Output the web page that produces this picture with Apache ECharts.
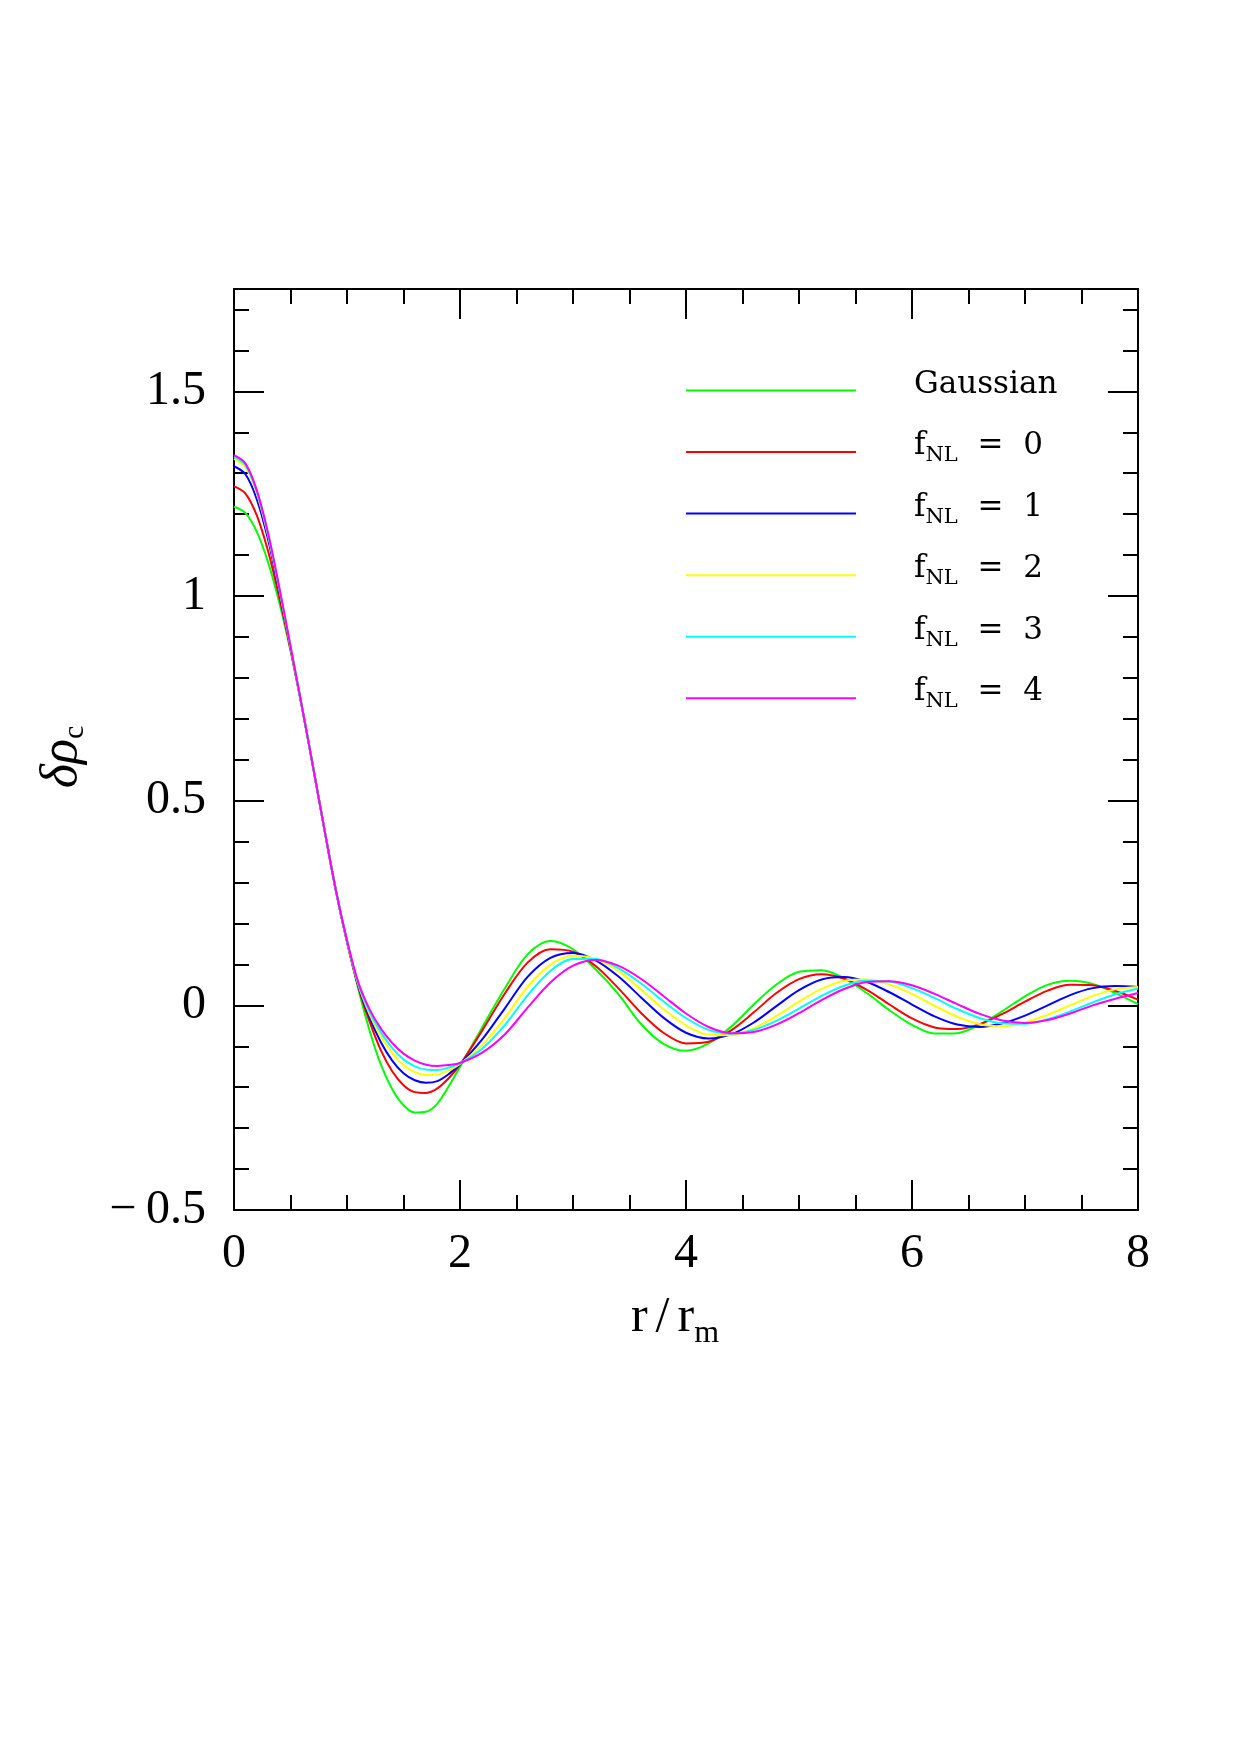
<!DOCTYPE html>
<html>
<head>
<meta charset="utf-8">
<script src="https://cdn.jsdelivr.net/npm/echarts@6/dist/echarts.min.js"></script>
<style>
html, body { margin: 0; padding: 0; background: #fff; }
#main { width: 1240px; height: 1755px; }
</style>
</head>
<body>
<div id="main"></div>
<script>
// r / r_m sample points
const rValues = [0, 0.1, 0.2, 0.3, 0.4, 0.5, 0.6, 0.7, 0.8, 0.9, 1.0, 1.1, 1.2, 1.3, 1.4, 1.5, 1.6, 1.7, 1.8, 1.9, 2.0,
    2.2, 2.4, 2.6, 2.8, 3.0, 3.2, 3.4, 3.6, 3.8, 4.0, 4.2, 4.4, 4.6, 4.8, 5.0, 5.2, 5.4, 5.6, 5.8, 6.0,
    6.2, 6.4, 6.6, 6.8, 7.0, 7.2, 7.4, 7.6, 7.8, 8.0];

const gaussian = [1.218, 1.203, 1.158, 1.084, 0.985, 0.866, 0.730, 0.582, 0.430, 0.283, 0.155, 0.040, -0.062, -0.145, -0.205, -0.244, -0.262, -0.260, -0.240, -0.198, -0.150,
    -0.052, 0.043, 0.125, 0.157, 0.137, 0.088, 0.028, -0.045, -0.094, -0.111, -0.093, -0.052, 0.002, 0.051, 0.082, 0.086, 0.066, 0.030, -0.012, -0.048,
    -0.069, -0.068, -0.047, -0.014, 0.022, 0.050, 0.060, 0.052, 0.030, 0.003];
const fnl0 = [1.268, 1.251, 1.198, 1.111, 0.998, 0.870, 0.731, 0.582, 0.430, 0.283, 0.155, 0.045, -0.040, -0.110, -0.161, -0.195, -0.212, -0.214, -0.203, -0.178, -0.145,
    -0.060, 0.030, 0.105, 0.137, 0.131, 0.096, 0.042, -0.018, -0.067, -0.093, -0.089, -0.061, -0.017, 0.030, 0.064, 0.076, 0.065, 0.038, 0.002, -0.032,
    -0.054, -0.058, -0.046, -0.021, 0.009, 0.036, 0.050, 0.049, 0.035, 0.014];
const fnl1 = [1.317, 1.298, 1.238, 1.140, 1.012, 0.874, 0.731, 0.582, 0.430, 0.283, 0.156, 0.048, -0.030, -0.090, -0.135, -0.166, -0.183, -0.189, -0.185, -0.168, -0.144,
    -0.082, -0.006, 0.070, 0.116, 0.128, 0.110, 0.071, 0.020, -0.030, -0.067, -0.081, -0.071, -0.042, -0.002, 0.037, 0.063, 0.069, 0.057, 0.032, 0.002,
    -0.027, -0.047, -0.053, -0.044, -0.025, 0.000, 0.025, 0.042, 0.047, 0.045];
const fnl2 = [1.335, 1.315, 1.252, 1.150, 1.018, 0.876, 0.732, 0.582, 0.430, 0.283, 0.157, 0.051, -0.022, -0.076, -0.117, -0.146, -0.163, -0.170, -0.169, -0.159, -0.143,
    -0.096, -0.030, 0.046, 0.099, 0.121, 0.113, 0.084, 0.039, -0.009, -0.049, -0.072, -0.073, -0.056, -0.026, 0.009, 0.040, 0.060, 0.063, 0.051, 0.028,
    -0.001, -0.028, -0.046, -0.051, -0.042, -0.023, 0.000, 0.023, 0.039, 0.045];
const fnl3 = [1.340, 1.320, 1.256, 1.153, 1.020, 0.877, 0.732, 0.582, 0.430, 0.283, 0.158, 0.053, -0.016, -0.066, -0.104, -0.132, -0.149, -0.157, -0.158, -0.152, -0.142,
    -0.105, -0.047, 0.025, 0.084, 0.113, 0.113, 0.091, 0.054, 0.010, -0.031, -0.060, -0.069, -0.060, -0.038, -0.008, 0.023, 0.048, 0.060, 0.058, 0.042,
    0.018, -0.009, -0.031, -0.044, -0.045, -0.034, -0.015, 0.007, 0.027, 0.041];
const fnl4 = [1.344, 1.324, 1.260, 1.156, 1.022, 0.878, 0.732, 0.582, 0.430, 0.283, 0.159, 0.056, -0.010, -0.057, -0.092, -0.118, -0.135, -0.145, -0.148, -0.146, -0.141,
    -0.115, -0.070, -0.005, 0.056, 0.097, 0.111, 0.097, 0.065, 0.023, -0.020, -0.053, -0.068, -0.065, -0.047, -0.019, 0.013, 0.040, 0.057, 0.059, 0.049,
    0.028, 0.003, -0.021, -0.037, -0.043, -0.036, -0.020, 0.000, 0.016, 0.030];

const seriesNames = ["Gaussian", "fNL  =  0", "fNL  =  1", "fNL  =  2", "fNL  =  3", "fNL  =  4"];
const seriesValues = [gaussian, fnl0, fnl1, fnl2, fnl3, fnl4];
const seriesColors = ["#00ff00", "#ff0000", "#0000ff", "#ffff00", "#00ffff", "#ff00ff"];

const chart = echarts.init(document.getElementById("main"));

const labelFont = "Liberation Serif";
const legendFont = "DejaVu Serif";
const black = "#000";

// shared frame / tick styles
function frameAxis(extra, minorSplit) {
    return Object.assign({
        type: "value",
        axisLine: { show: true, onZero: false, lineStyle: { color: black, width: 2 } },
        axisTick: { show: true, inside: true, length: 30, lineStyle: { color: black, width: 2 } },
        minorTick: { show: true, splitNumber: minorSplit, length: 15, lineStyle: { color: black, width: 2 } },
        splitLine: { show: false },
        minorSplitLine: { show: false }
    }, extra);
}

const xBase = { min: 0, max: 8, interval: 2 };
const yBase = { min: -0.5, max: 1.75, interval: 0.5 };

// one legend block per curve so the rows keep the wide spacing of the original
function legendRow(name, i) {
    return {
        data: [name],
        orient: "vertical",
        left: 686,
        top: 369 + i * 61.55,
        padding: 0,
        icon: "rect",
        itemWidth: 170,
        itemHeight: 2,
        selectedMode: false,
        itemStyle: { borderWidth: 0 },
        formatter: (n) => n === "Gaussian"
            ? "{v|Gaussian}"
            : "{v|f}{s|NL}{v|" + n.slice(3) + "}",
        textStyle: {
            color: black,
            padding: [0, 0, 12, 53],
            rich: {
                v: { fontFamily: legendFont, fontSize: 31, lineHeight: 40, color: black },
                s: { fontFamily: legendFont, fontSize: 21, lineHeight: 14, verticalAlign: "bottom", color: black }
            }
        }
    };
}

let option = {
    animation: false,
    backgroundColor: "#fff",
    grid: { left: 234, top: 289, width: 904, height: 921 },
    legend: seriesNames.map(legendRow),
    xAxis: [
        frameAxis(Object.assign({}, xBase, {
            position: "bottom",
            axisLabel: { margin: 20, fontFamily: labelFont, fontSize: 48, color: black },
            name: "{v|r}{p|/}{v|r}{s|m}",
            nameLocation: "middle",
            nameGap: 76,
            nameTextStyle: {
                padding: [0, 22, 0, 0],
                rich: {
                    v: { fontFamily: labelFont, fontSize: 50, lineHeight: 64, color: black },
                    p: { fontFamily: labelFont, fontSize: 50, lineHeight: 64, padding: [0, 8, 0, 8], color: black },
                    s: { fontFamily: labelFont, fontSize: 32, lineHeight: 20, verticalAlign: "bottom", color: black }
                }
            }
        }), 4),
        frameAxis(Object.assign({}, xBase, {
            position: "top",
            axisLabel: { show: false }
        }), 4)
    ],
    yAxis: [
        frameAxis(Object.assign({}, yBase, {
            position: "left",
            axisLabel: {
                margin: 28, fontFamily: labelFont, fontSize: 48, color: black,
                showMaxLabel: false,
                formatter: (v) => String(v).replace("-", "\u2212\u2009")
            },
            name: "{v|δρ}{s|c}",
            nameLocation: "middle",
            nameGap: 144,
            nameTextStyle: {
                padding: [0, 15, 0, 0],
                rich: {
                    v: { fontFamily: labelFont, fontStyle: "italic", fontSize: 52, lineHeight: 56, color: black },
                    s: { fontFamily: labelFont, fontSize: 30, lineHeight: 18, verticalAlign: "bottom", color: black }
                }
            }
        }), 5),
        frameAxis(Object.assign({}, yBase, {
            position: "right",
            axisLabel: { show: false }
        }), 5)
    ],
    series: seriesValues.map((vals, i) => ({
        name: seriesNames[i],
        type: "line",
        xAxisIndex: 0,
        yAxisIndex: 0,
        symbol: "none",
        smooth: 0.33,
        data: rValues.map((r, j) => [r, vals[j]]),
        lineStyle: { color: seriesColors[i], width: 2 },
        itemStyle: { color: seriesColors[i] }
    }))
};

chart.setOption(option);
</script>
</body>
</html>
